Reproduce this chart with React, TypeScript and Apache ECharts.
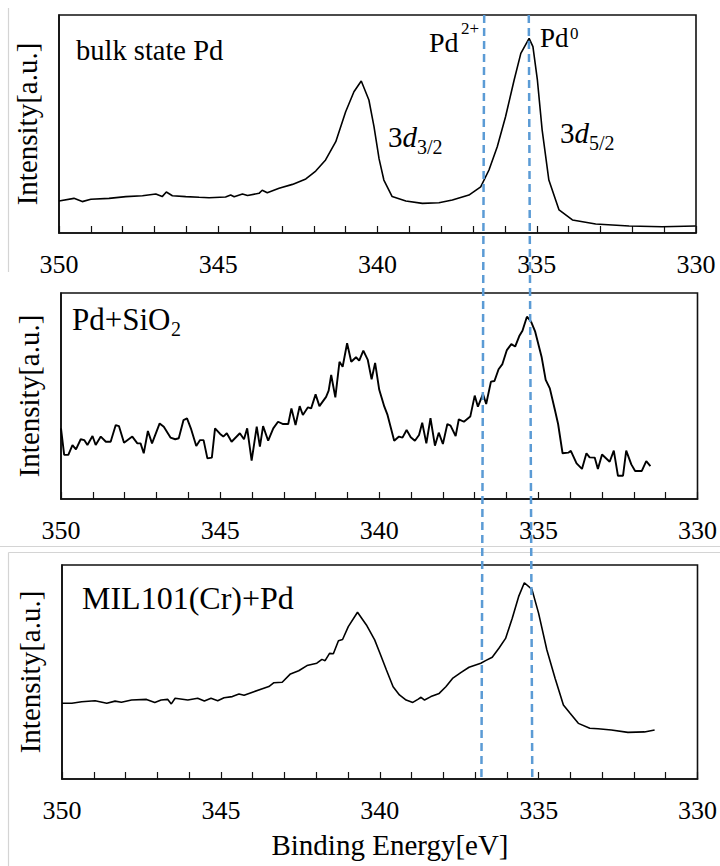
import React, { useEffect, useRef } from "react";
import * as echarts from "echarts";

// ---- Data (binding energy in eV, intensity in arbitrary units 0-100) ----
const bulkE = [350, 349.53, 349.27, 349.0, 348.43, 347.9, 347.38, 346.96, 346.76, 346.63, 346.44, 346.02, 345.6, 345.29, 344.77, 344.61, 344.5, 344.24, 344.08, 343.72, 343.62, 343.46, 343.09, 342.67, 342.25, 341.94, 341.63, 341.31, 341.0, 340.74, 340.51, 340.27, 340.11, 339.95, 339.8, 339.54, 339.11, 338.59, 338.07, 337.65, 337.13, 336.76, 336.5, 336.24, 335.98, 335.71, 335.5, 335.24, 335.12, 334.98, 334.83, 334.62, 334.3, 333.88, 333.15, 332.1, 331.06, 330.01];
const bulkI = [14.7, 15.9, 14.4, 15.5, 15.9, 16.7, 17.1, 17.9, 16.7, 18.8, 17.1, 16.7, 16.4, 16.2, 16.5, 17.4, 16.6, 17.9, 17.2, 18.2, 19.6, 18.5, 20.5, 22.3, 24.8, 28.4, 33.5, 41.9, 55.6, 64.8, 69.7, 61, 48.8, 34, 24.3, 16.7, 14.7, 13.6, 13.9, 15.1, 17.4, 21.2, 28.9, 39.6, 53.3, 70.2, 82.4, 89.3, 85.5, 70.2, 47.2, 24.3, 10.6, 6, 4.1, 3.2, 2.9, 3.2];

const sio2E = [350, 349.9, 349.77, 349.64, 349.53, 349.38, 349.27, 349.17, 349.01, 348.91, 348.75, 348.59, 348.44, 348.28, 348.18, 348.02, 347.76, 347.6, 347.5, 347.4, 347.27, 347.14, 346.9, 346.77, 346.56, 346.41, 346.3, 346.15, 346.04, 345.92, 345.75, 345.63, 345.52, 345.4, 345.26, 345.16, 345.0, 344.9, 344.79, 344.64, 344.38, 344.25, 344.15, 344.01, 343.85, 343.75, 343.65, 343.49, 343.33, 343.18, 343.02, 342.86, 342.76, 342.63, 342.5, 342.4, 342.24, 342.14, 342.0, 341.88, 341.67, 341.59, 341.51, 341.38, 341.25, 341.15, 341.01, 340.88, 340.73, 340.63, 340.5, 340.36, 340.24, 340.13, 340.0,
  339.84, 339.74, 339.53, 339.38, 339.27, 339.14, 339.01, 338.88, 338.75, 338.65, 338.52, 338.39, 338.25, 338.13, 338.0, 337.86, 337.76, 337.6, 337.5, 337.34, 337.14, 337.0, 336.9, 336.74, 336.64, 336.49, 336.38, 336.25, 336.13, 335.99, 335.85, 335.73, 335.6, 335.5, 335.36, 335.23, 335.1, 334.9, 334.77, 334.64, 334.48, 334.38, 334.24, 334.06, 333.98, 333.8, 333.63, 333.49, 333.39, 333.23, 333.13, 333.0, 332.76, 332.63, 332.5, 332.34, 332.24, 332.08, 331.96, 331.75, 331.61, 331.48];
const sio2I = [34.3, 21.4, 21.4, 26.2, 24.1, 29, 28.6, 26.2, 30.6, 26.2, 30.3, 27.8, 27.8, 35.9, 35.4, 27.3, 30.3, 27, 27, 22.2, 33, 27, 36.7, 35.1, 29.8, 29, 29.5, 38.3, 39.1, 34.3, 25.7, 28.6, 28.6, 19.7, 20.1, 34.3, 31.6, 30.3, 31.9, 27.8, 31.9, 29, 34.3, 18.6, 35.1, 25.4, 35.4, 28.3, 34.3, 37.5, 36.4, 36.4, 44, 35.9, 45.1, 40.8, 44.5, 44, 50.8, 45.1, 49.6, 52.6, 60.2, 49.3, 66.6, 64.2, 75.6, 66.6, 68.8, 67.2, 72, 67.5, 58.1, 66.1, 53,
  44.8, 40.8, 28.3, 30.3, 29.8, 33.5, 30, 28.3, 31.1, 37, 27, 39.2, 25.9, 32.2, 26.7, 36.4, 35.6, 30.6, 38.7, 37.5, 40, 50.2, 44.8, 51, 46.1, 57, 57.3, 63, 65.5, 72.3, 75.2, 74, 79.1, 81.7, 88.5, 86.1, 81.2, 69.1, 57.8, 53.7, 43.2, 36.4, 22.2, 22.5, 23.4, 17.3, 14.6, 22.2, 20.2, 20.1, 14.6, 21.6, 18.1, 23.5, 11.3, 11.3, 23.5, 16.8, 13.6, 13.6, 18.4, 16];

const milE = [350, 349.69, 349.38, 348.96, 348.59, 348.33, 348.13, 347.81, 347.34, 347.08, 346.88, 346.67, 346.56, 346.44, 346.04, 345.73, 345.52, 345.31, 345.1, 344.9, 344.64, 344.43, 344.27, 343.96, 343.65, 343.49, 343.33, 343.07, 342.81, 342.55, 342.29, 341.98, 341.82, 341.72, 341.58, 341.46, 341.3, 341.17, 340.99, 340.7, 340.42, 340.16, 340.0, 339.79, 339.58, 339.38, 339.17, 338.96, 338.8, 338.7, 338.59, 338.39, 338.13, 337.92, 337.71, 337.45, 337.19, 336.82, 336.67, 336.46, 336.25, 336.04, 335.83, 335.63, 335.45, 335.21, 335.0, 334.74, 334.48, 334.22, 334.01, 333.75, 333.39, 333.13, 332.71, 332.19, 331.67, 331.35];
const milI = [35.4, 35.4, 36.1, 36.6, 35.4, 36.4, 35.9, 36.9, 37.2, 35.7, 36.9, 37.2, 35.1, 37.7, 36.9, 37.7, 36.4, 37.7, 36.6, 38, 38.5, 39.7, 39.1, 40.8, 42.4, 43.2, 45, 45.2, 49.1, 50.6, 53, 54.1, 55.9, 55.3, 58.7, 58.5, 64.6, 65.2, 71.2, 77.9, 72, 65, 59, 50.9, 43.1, 39.3, 36.9, 35.8, 37.2, 38.2, 36.9, 38.5, 40, 43.1, 47, 49.7, 52.2, 54.1, 55.3, 56.9, 61.1, 65.7, 75.1, 85.2, 91.7, 88.6, 77.4, 60.3, 47, 34.6, 30.7, 26, 23.7, 23.5, 22.9, 21.8, 22, 22.9];

const xMin = 330;
const xMax = 350;
const labelStep = 5;
const yAxisTitle = "Intensity[a.u.]";
const xAxisTitle = "Binding Energy[eV]";
// reference lines: [top of first panel, bottom of last panel]
const pd2PlusE = [336.65, 336.8];
const pd0E = [335.25, 335.2];

const SERIF = "Liberation Serif, Times New Roman, serif";
const INK = "#000";

const grids = [
  { left: 59, top: 15, width: 637, height: 218 },
  { left: 61, top: 293, width: 640, height: 206 },
  { left: 62, top: 565, width: 640, height: 214 },
];
const lineWidths = [1.6, 1.9, 1.6];

const zip = (e: number[], v: number[]) => e.map((x, i) => [x, v[i]]);

function txt(text: string, x: number, baseline: number, fs: number, extra: any = {}) {
  return {
    type: "text",
    x,
    y: baseline - 0.3375 * fs,
    z: 20,
    style: {
      text,
      fontSize: fs,
      fontFamily: SERIF,
      fill: INK,
      align: "left",
      verticalAlign: "middle",
      textAlign: "left",
      textVerticalAlign: "middle",
      ...extra,
    },
  };
}

function grayLine(x1: number, y1: number, x2: number, y2: number) {
  return {
    type: "line",
    z: 1,
    shape: { x1, y1, x2, y2 },
    style: { stroke: "#d4d4d4", lineWidth: 1.2 },
  };
}

export default function App() {
  const ref = useRef<HTMLDivElement>(null);
  useEffect(() => {
    if (!ref.current) return;
    const chart = echarts.init(ref.current, undefined, { renderer: "svg" });
    const datasets = [zip(bulkE, bulkI), zip(sio2E, sio2I), zip(milE, milI)];

    const option: any = {
      animation: false,
      backgroundColor: "#fff",
      textStyle: { fontFamily: SERIF },
      grid: grids.map((g) => ({
        ...g,
        show: true,
        borderColor: "#111",
        borderWidth: 1.6,
        backgroundColor: "transparent",
      })),
      xAxis: grids.map((_, i) => ({
        type: "value",
        gridIndex: i,
        min: xMin,
        max: xMax,
        interval: 1,
        inverse: true,
        splitLine: { show: false },
        axisLine: { show: true, lineStyle: { color: "#111", width: 1.6 } },
        axisTick: { show: true, inside: true, length: 7, lineStyle: { color: "#111", width: 1.2 } },
        axisLabel: {
          margin: 18,
          fontSize: 26,
          fontFamily: SERIF,
          color: INK,
          formatter: (v: number) => (Math.round(v) % labelStep === 0 ? String(Math.round(v)) : ""),
        },
      })),
      yAxis: grids.map((_, i) => ({
        type: "value",
        gridIndex: i,
        min: 0,
        max: 100,
        splitLine: { show: false },
        axisLine: { show: true, lineStyle: { color: "#111", width: 1.6 } },
        axisTick: { show: false },
        axisLabel: { show: false },
        name: yAxisTitle,
        nameLocation: "middle",
        nameRotate: 90,
        nameGap: 18,
        nameTextStyle: { fontSize: 29, fontFamily: SERIF, color: INK },
      })),
      series: datasets.map((d, i) => ({
        type: "line",
        xAxisIndex: i,
        yAxisIndex: i,
        data: d,
        showSymbol: false,
        symbol: "none",
        silent: true,
        lineStyle: { color: "#000", width: lineWidths[i] },
      })),
    };
    chart.setOption(option);

    const dashed = (eArr: number[], id: string) => {
      const p1 = chart.convertToPixel({ xAxisIndex: 0, yAxisIndex: 0 }, [eArr[0], 100]) as number[];
      const p2 = chart.convertToPixel({ xAxisIndex: 2, yAxisIndex: 2 }, [eArr[1], 0]) as number[];
      return {
        type: "line",
        id,
        z: 30,
        shape: { x1: p1[0], y1: p1[1], x2: p2[0], y2: p2[1] },
        style: { stroke: "#5B9BD5", lineWidth: 2.5, lineDash: [8, 5] },
      };
    };

    const xTitle = txt(xAxisTitle, 390, 855, 29);
    xTitle.style = { ...xTitle.style, align: "center", textAlign: "center" };

    const elements: any[] = [
      grayLine(8.5, 8, 8.5, 272),
      grayLine(0, 546.5, 720, 546.5),
      grayLine(8.5, 552.5, 720, 552.5),
      grayLine(8.5, 552.5, 8.5, 866),
      dashed(pd2PlusE, "pd2"),
      dashed(pd0E, "pd0"),
      // panel titles
      txt("bulk state Pd", 76, 60, 28.5),
      txt("Pd+SiO", 72, 330, 31),
      txt("2", 171, 336, 20),
      txt("MIL101(Cr)+Pd", 82, 609, 32),
      // oxidation state labels
      txt("Pd", 429, 52, 28),
      txt("2+", 461, 34, 17),
      txt("Pd", 540, 47, 27),
      txt("0", 570, 39, 17),
      // peak labels
      txt("3", 388, 147, 29),
      txt("d", 402.5, 147, 29, { fontStyle: "italic" }),
      txt("3/2", 417, 154, 20),
      txt("3", 560, 143, 29),
      txt("d", 574.5, 143, 29, { fontStyle: "italic" }),
      txt("5/2", 589, 150, 20),
      // x axis title
      xTitle,
    ];
    chart.setOption({ graphic: { elements } });

    return () => chart.dispose();
  }, []);

  return (
    <div
      ref={ref}
      style={{ position: "absolute", left: 0, top: 0, width: 720, height: 866, background: "#fff" }}
    />
  );
}
